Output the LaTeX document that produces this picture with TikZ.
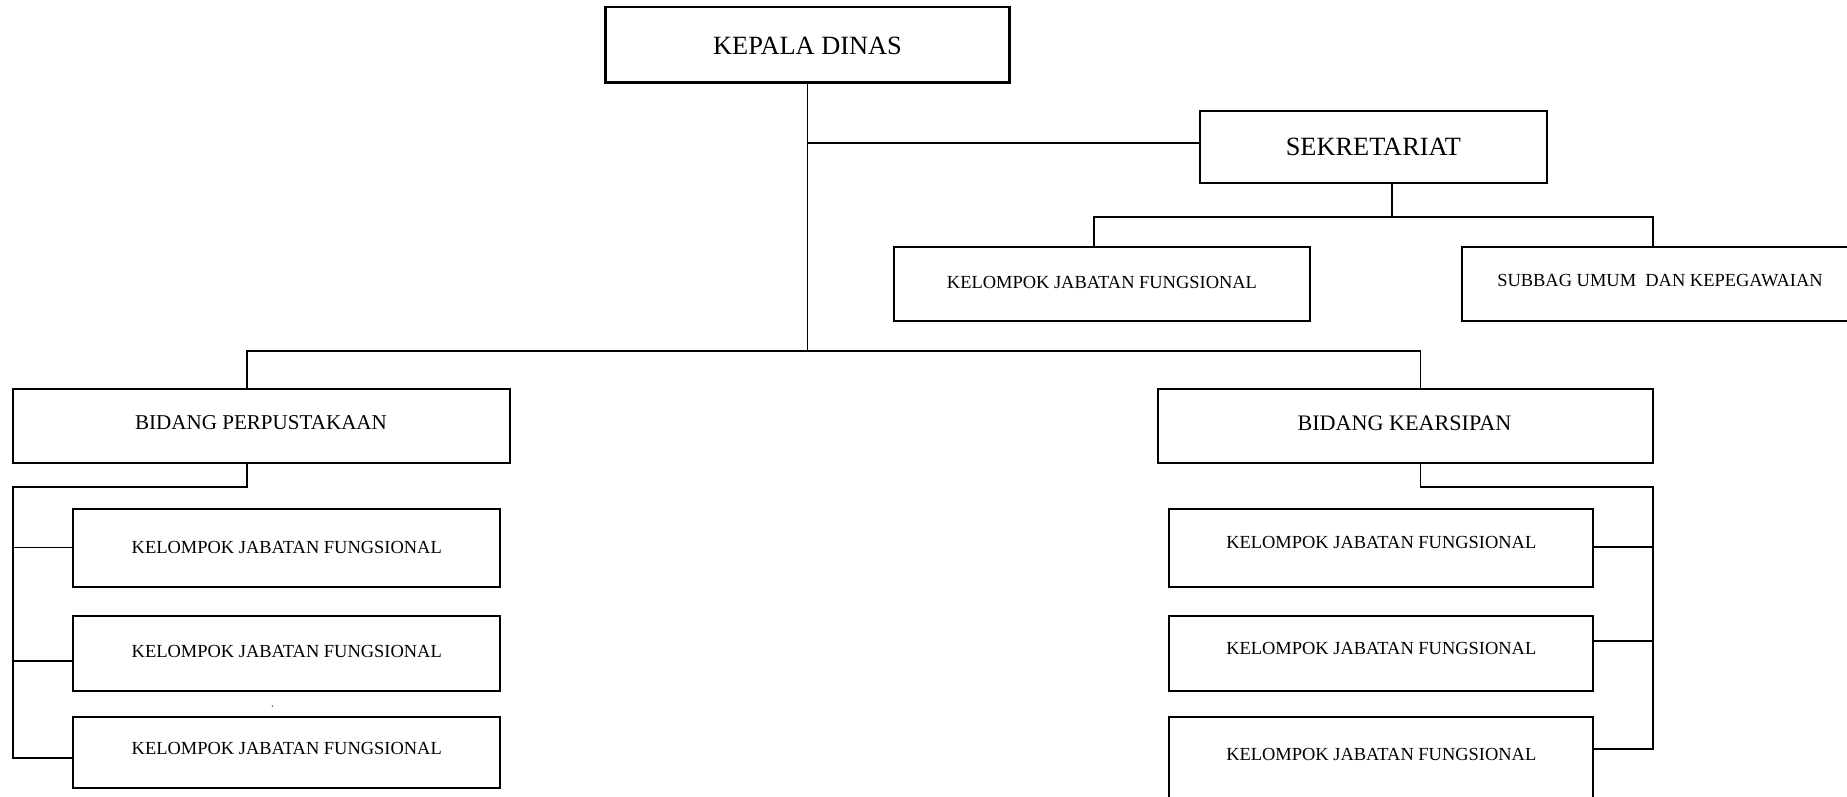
\documentclass[tikz,border=0pt]{standalone}
\usepackage{fontspec}
\setmainfont{Liberation Serif}
\usetikzlibrary{fit}
\tikzset{
  box/.style={draw, line width=1.15pt, inner sep=0pt, fill=none},
  bigbox/.style={draw, line width=1.4pt, inner sep=0pt},
  conn/.style={line width=1.05pt, line cap=rect},
  lbl/.style={inner sep=0pt, anchor=center, text depth=0pt},
  fbig/.style={font=\fontsize{15}{18}\selectfont, text height=9.93pt},
  fmid/.style={font=\fontsize{12}{14}\selectfont, text height=7.94pt},
  fmidb/.style={font=\fontsize{12.6}{15}\selectfont, text height=8.34pt},
  fsmall/.style={font=\fontsize{10.5}{12.5}\selectfont, text height=6.95pt},
}
\begin{document}
\begin{tikzpicture}[x=0.02cm,y=-0.02cm]
\useasboundingbox (0,0) rectangle (1847,796);
% boxes
\node[bigbox, fit={(605.5,7) (1009.5,82.5)}] (kd) {};
\node[box, fit={(1200,111) (1546.5,182.7)}] (sek) {};
\node[box, fit={(894,246.7) (1310,320.7)}] (kjfs) {};
\node[box, fit={(1462,246.7) (1858,320.7)}] (sub) {};
\node[box, fit={(12.7,389) (510,463.3)}] (bp) {};
\node[box, fit={(1158,389) (1652.5,463.3)}] (bk) {};
\node[box, fit={(73.3,509.3) (500.3,587.3)}] (l1) {};
\node[box, fit={(73.3,616) (500.3,690.7)}] (l2) {};
\node[box, fit={(73.3,717.3) (500.3,787.7)}] (l3) {};
\node[box, fit={(1169.3,509.3) (1593.3,587.3)}] (r1) {};
\node[box, fit={(1169.3,616) (1593.3,690.7)}] (r2) {};
\node[box, fit={(1169.3,716.7) (1593.3,805)}] (r3) {};
% texts
\node[lbl, fbig] (tkd) at (807.5,45.5) {KEPALA DINAS};
\node[lbl, fbig] (tsek) at (1373.3,147) {SEKRETARIAT};
\node[lbl, fsmall] (tkjfs) at (1102,282) {KELOMPOK JABATAN FUNGSIONAL};
\node[lbl, fsmall] (tsub) at (1660,280) {SUBBAG UMUM\ \ DAN KEPEGAWAIAN};
\node[lbl, fmid] (tbp) at (261,422.5) {BIDANG PERPUSTAKAAN};
\node[lbl, fmidb] (tbk) at (1404.4,423.5) {BIDANG KEARSIPAN};
\node[lbl, fsmall] (tl1) at (286.8,547.7) {KELOMPOK JABATAN FUNGSIONAL};
\node[lbl, fsmall] (tl2) at (286.8,651) {KELOMPOK JABATAN FUNGSIONAL};
\node[lbl, fsmall] (tl3) at (286.8,748.3) {KELOMPOK JABATAN FUNGSIONAL};
\node[lbl, fsmall] (tr1) at (1381.3,542) {KELOMPOK JABATAN FUNGSIONAL};
\node[lbl, fsmall] (tr2) at (1381.3,648.6) {KELOMPOK JABATAN FUNGSIONAL};
\node[lbl, fsmall] (tr3) at (1381.3,754.3) {KELOMPOK JABATAN FUNGSIONAL};
% coordinates
\coordinate (mainL) at (247.4,351);
\coordinate (mainR) at (1420.5,351);
\coordinate (sekj) at (807.7,142.7);
\coordinate (sekstem) at (1392,182.7);
\coordinate (sekbar) at (1392,216.7);
\coordinate (sekbarL) at (1094,216.7);
\coordinate (sekbarR) at (1653,216.7);
\coordinate (lstem) at (247.4,486.7);
\coordinate (lbusT) at (13.3,486.7);
\coordinate (lb1) at (13.3,547.5);
\coordinate (lb2) at (13.3,661);
\coordinate (lb3) at (13.3,758.3);
\coordinate (rstem) at (1420.5,487.3);
\coordinate (rbusT) at (1653,487.3);
\coordinate (rb1) at (1653,547.3);
\coordinate (rb2) at (1653,641);
\coordinate (rb3) at (1653,748.7);
% connectors
\draw[conn] (kd.south) -- (kd.south |- mainL);
\draw[conn] (sekj) -- (sek.west |- sekj);
\draw[conn] (bp.north -| mainL) -- (mainL) -- (mainR) -- (bk.north -| mainR);
\draw[conn] (sekstem) -- (sekbar);
\draw[conn] (kjfs.north -| sekbarL) -- (sekbarL) -- (sekbarR) -- (sub.north -| sekbarR);
\draw[conn] (bp.south -| lstem) -- (lstem) -- (lbusT) -- (lb3);
\draw[conn] (lb1) -- (l1.west |- lb1);
\draw[conn] (lb2) -- (l2.west |- lb2);
\draw[conn] (lb3) -- (l3.west |- lb3);
\draw[conn] (bk.south -| rstem) -- (rstem) -- (rbusT) -- (rb3);
\draw[conn] (rb1) -- (r1.east |- rb1);
\draw[conn] (rb2) -- (r2.east |- rb2);
\draw[conn] (rb3) -- (r3.east |- rb3);
% stray dot
\fill (272.3,706) circle[radius=0.4pt];
\end{tikzpicture}
\end{document}
